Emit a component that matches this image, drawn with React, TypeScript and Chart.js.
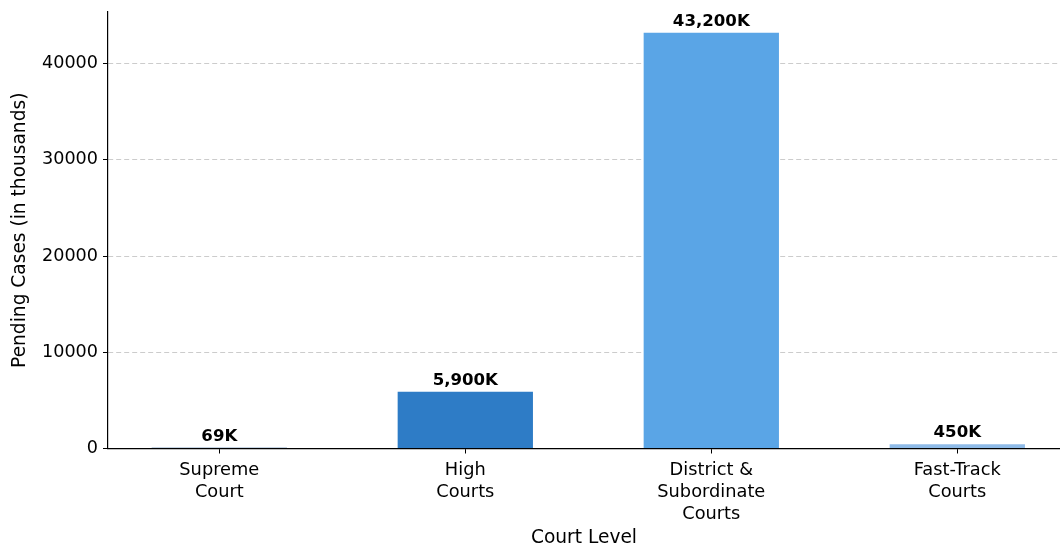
import React, { useEffect, useRef } from "react";
import { Chart, registerables } from "chart.js";

Chart.register(...registerables);

const categories: string[][] = [
  ["Supreme", "Court"],
  ["High", "Courts"],
  ["District &", "Subordinate", "Courts"],
  ["Fast-Track", "Courts"],
];
const pendingCases: number[] = [69, 5900, 43200, 450];
const valueLabels: string[] = ["69K", "5,900K", "43,200K", "450K"];
const barColors: string[] = ["#1b4f8c", "#2e7cc6", "#5aa5e6", "#8fbbe8"];
const yTicks: number[] = [0, 10000, 20000, 30000, 40000];

const FONT = "'DejaVu Sans', sans-serif";

export default function App() {
  const ref = useRef<HTMLCanvasElement | null>(null);
  useEffect(() => {
    if (!ref.current) return;
    const labelPlugin = {
      id: "valueLabels",
      afterDatasetsDraw(chart: any) {
        const ctx = chart.ctx;
        const meta = chart.getDatasetMeta(0);
        ctx.save();
        ctx.font = `bold 16.6px ${FONT}`;
        ctx.fillStyle = "#000";
        ctx.textAlign = "center";
        ctx.textBaseline = "bottom";
        meta.data.forEach((bar: any, i: number) => {
          ctx.fillText(valueLabels[i], bar.x, bar.y - 3);
        });
        ctx.restore();
      },
    };
    const chart = new Chart(ref.current, {
      type: "bar",
      data: {
        datasets: [
          {
            data: pendingCases.map((v, i) => ({ x: i, y: v })),
            backgroundColor: barColors,
            borderColor: "#ffffff",
            borderWidth: 0,
            barPercentage: 0.55,
            categoryPercentage: 1,
          },
        ],
      },
      options: {
        animation: false,
        responsive: false,
        maintainAspectRatio: false,
        layout: { padding: { top: 12, left: 0, right: 0, bottom: 0 } },
        plugins: { legend: { display: false }, tooltip: { enabled: false } },
        scales: {
          x: {
            type: "linear",
            offset: false,
            min: -0.4525,
            max: 3.4175,
            afterBuildTicks: (scale: any) => {
              scale.ticks = categories.map((_, i) => ({ value: i }));
            },
            afterFit: (scale: any) => {
              scale.height = 98.5;
              scale.paddingLeft = 0;
              scale.paddingRight = 0;
            },
            ticks: {
              autoSkip: false,
              maxRotation: 0,
              color: "#000",
              padding: 6,
              font: { family: FONT, size: 17.8, lineHeight: 1.24 },
              callback: (v: any) => categories[Number(v)] ?? "",
            },
            grid: {
              display: true,
              offset: false,
              drawOnChartArea: false,
              drawTicks: true,
              tickLength: 5,
              tickColor: "#000",
              color: "#000",
            },
            border: { display: true, color: "#000", width: 1.2 },
            title: {
              display: true,
              text: "Court Level",
              color: "#000",
              font: { family: FONT, size: 18.6, lineHeight: 1.0 },
              padding: { top: 0, bottom: 0 },
            },
          },
          y: {
            min: 0,
            max: 45360,
            afterBuildTicks: (scale: any) => {
              scale.ticks = yTicks.map((v) => ({ value: v }));
            },
            afterFit: (scale: any) => {
              scale.width = 108;
              scale.paddingTop = 0;
              scale.paddingBottom = 0;
            },
            ticks: {
              color: "#000",
              padding: 5,
              font: { family: FONT, size: 17.6 },
              callback: (v: any) => String(v),
            },
            grid: {
              display: true,
              color: "#cccccc",
              lineWidth: 1,
              drawTicks: true,
              tickLength: 5,
              tickColor: "#000",
              tickBorderDash: [],
            },
            border: { display: true, color: "#000", width: 1.2, dash: [5, 3] },
            title: {
              display: true,
              text: "Pending Cases (in thousands)",
              color: "#000",
              font: { family: FONT, size: 18.6, lineHeight: 1.2 },
              padding: { top: 9, bottom: 0 },
            },
          },
        },
      },
      plugins: [labelPlugin],
    } as any);
    return () => chart.destroy();
  }, []);
  return (
    <div style={{ position: "absolute", left: 0, top: 0, width: 1060, height: 547, background: "#fff" }}>
      <canvas ref={ref} width={1060} height={547} style={{ width: 1060, height: 547, display: "block" }} />
    </div>
  );
}
